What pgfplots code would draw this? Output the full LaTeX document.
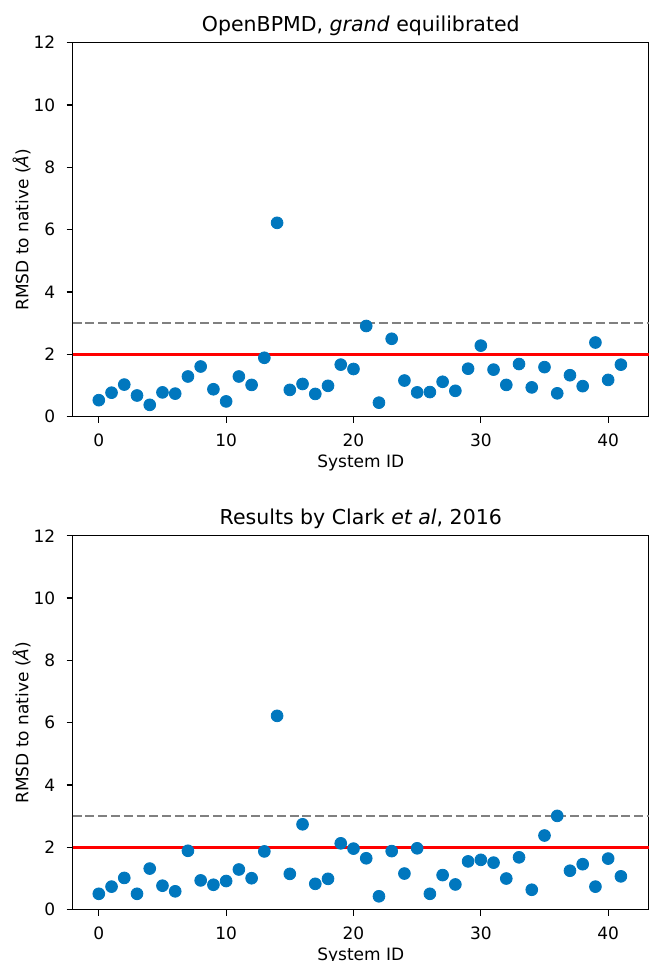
\documentclass[border=0pt]{standalone}
\usepackage{fontspec}
\setmainfont{DejaVu Sans}
\usepackage{pgfplots}
\pgfplotsset{compat=1.18}
\definecolor{dotblue}{RGB}{0,119,190}
\definecolor{dashgray}{RGB}{128,128,128}
\pgfplotsset{
  myaxis/.style={
    scale only axis,
    width=288.1pt, height=187pt,
    xmin=-2.05, xmax=43.2,
    ymin=0, ymax=12,
    xtick={0,10,20,30,40},
    ytick={0,2,4,6,8,10,12},
    tick align=outside,
    major tick length=3pt,
    xtick pos=bottom, ytick pos=left,
    axis line style={line width=0.64pt},
    every tick/.style={line width=0.64pt, black},
    /pgf/number format/assume math mode=true,
    tick label style={font=\fontsize{8.5}{10}\selectfont},
    xticklabel style={anchor=north, inner sep=0pt, yshift=-5.5pt},
    yticklabel style={anchor=east, inner sep=0pt, xshift=-5.5pt},
    label style={font=\fontsize{8.5}{10}\selectfont},
    xlabel={System ID},
    ylabel={RMSD to native (\textit{Å})},
    xlabel style={at={(axis description cs:0.5,0)}, anchor=center, yshift=-23pt, inner sep=0pt},
    ylabel style={at={(axis description cs:-0.0885,0.5)}, anchor=center, inner sep=0pt},
    every axis title shift=0pt,
    title style={font=\fontsize{10.25}{12}\selectfont, at={(axis description cs:0.5,1)}, anchor=center, yshift=8.3pt, inner sep=0pt},
    clip=false,
  },
  dots/.style={only marks, mark=*, mark size=2.95pt, color=dotblue, mark options={draw=dotblue, fill=dotblue}},
  redline/.style={red, line width=1.25pt},
  grayline/.style={dashgray, line width=1.25pt, dash pattern=on 4.45pt off 1.93pt},
}
\begin{document}
\begin{tikzpicture}
\begin{axis}[myaxis, at={(36.35pt,272.15pt)}, anchor=south west,
  title={OpenBPMD, \textit{grand} equilibrated}]
\addplot[dots] coordinates {
(0,0.53) (1,0.77) (2,1.03) (3,0.68) (4,0.38) (5,0.78) (6,0.74) (7,1.29) (8,1.61) (9,0.88)
(10,0.49) (11,1.29) (12,1.02) (13,1.89) (14,6.22) (15,0.86) (16,1.05) (17,0.73) (18,0.99) (19,1.67)
(20,1.53) (21,2.91) (22,0.45) (23,2.50) (24,1.16) (25,0.78) (26,0.79) (27,1.12) (28,0.83) (29,1.54)
(30,2.28) (31,1.51) (32,1.02) (33,1.69) (34,0.94) (35,1.59) (36,0.75) (37,1.33) (38,0.98) (39,2.38)
(40,1.18) (41,1.67)
};
\addplot[grayline] coordinates {(-2.05,3) (43.2,3)};
\addplot[redline] coordinates {(-2.05,2) (43.2,2)};
\end{axis}
\begin{axis}[myaxis, at={(36.35pt,25.65pt)}, anchor=south west,
  title={Results by Clark \textit{et al}, 2016}]
\addplot[dots] coordinates {
(0,0.51) (1,0.74) (2,1.02) (3,0.51) (4,1.32) (5,0.77) (6,0.59) (7,1.89) (8,0.94) (9,0.80)
(10,0.92) (11,1.29) (12,1.01) (13,1.87) (14,6.22) (15,1.15) (16,2.74) (17,0.83) (18,0.99) (19,2.13)
(20,1.96) (21,1.65) (22,0.43) (23,1.88) (24,1.16) (25,1.97) (26,0.51) (27,1.11) (28,0.81) (29,1.55)
(30,1.60) (31,1.51) (32,1.00) (33,1.68) (34,0.64) (35,2.38) (36,3.01) (37,1.25) (38,1.46) (39,0.74)
(40,1.64) (41,1.07)
};
\addplot[grayline] coordinates {(-2.05,3) (43.2,3)};
\addplot[redline] coordinates {(-2.05,2) (43.2,2)};
\end{axis}
\pgfresetboundingbox
\useasboundingbox (0,0) rectangle (324pt,480.5pt);
\end{tikzpicture}
\end{document}
